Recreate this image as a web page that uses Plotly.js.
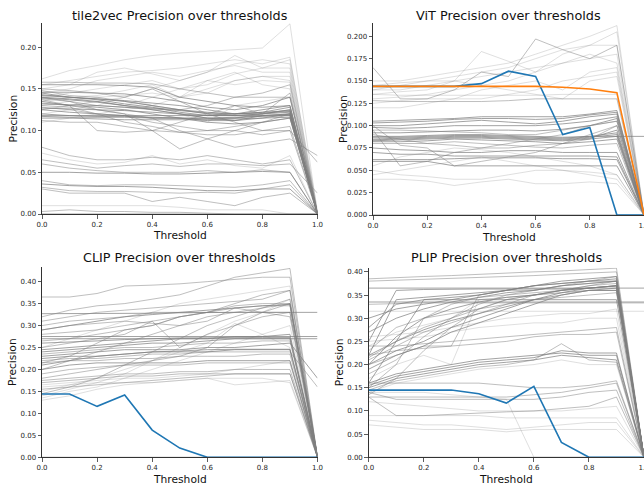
<!DOCTYPE html>
<html>
<head>
<meta charset="utf-8">
<script src="https://cdn.plot.ly/plotly-3.0.1.min.js"></script>
<style>html,body{margin:0;padding:0;background:#fff;}#chart{width:644px;height:491px;}</style>
</head>
<body>
<div id="chart"></div>
<script>
// ---------------- DATA ----------------
const thresholds = [0.0,0.1,0.2,0.3,0.4,0.5,0.6,0.7,0.8,0.9,1.0];

const panelTitles = ["tile2vec Precision over thresholds","ViT Precision over thresholds","CLIP Precision over thresholds","PLIP Precision over thresholds"];

const tile2vecLines = [
  [0.162,0.172,0.178,0.185,0.190,0.193,0.195,0.197,0.199,0.228,0.000],
  [0.155,0.160,0.165,0.170,0.172,0.175,0.180,0.185,0.180,0.188,0.000],
  [0.150,0.155,0.170,0.175,0.168,0.160,0.170,0.190,0.175,0.185,0.005],
  [0.145,0.150,0.160,0.165,0.170,0.165,0.172,0.178,0.170,0.170,0.000],
  [0.140,0.145,0.150,0.155,0.160,0.150,0.155,0.168,0.175,0.175,0.000],
  [0.135,0.140,0.142,0.148,0.155,0.140,0.145,0.160,0.165,0.165,0.000],
  [0.130,0.135,0.140,0.142,0.145,0.140,0.160,0.155,0.160,0.158,0.000],
  [0.125,0.130,0.135,0.130,0.140,0.150,0.160,0.170,0.155,0.150,0.000],
  [0.120,0.125,0.130,0.140,0.150,0.160,0.170,0.180,0.185,0.180,0.000],
  [0.110,0.115,0.120,0.125,0.130,0.140,0.150,0.160,0.165,0.160,0.000],
  [0.158,0.158,0.157,0.157,0.156,0.150,0.145,0.140,0.140,0.140,0.000],
  [0.155,0.155,0.155,0.154,0.152,0.140,0.135,0.130,0.128,0.130,0.000],
  [0.150,0.148,0.145,0.140,0.150,0.135,0.120,0.110,0.100,0.105,0.000],
  [0.145,0.140,0.138,0.135,0.130,0.125,0.120,0.118,0.120,0.125,0.000],
  [0.143,0.140,0.137,0.132,0.128,0.122,0.118,0.120,0.125,0.130,0.000],
  [0.140,0.138,0.135,0.130,0.125,0.120,0.115,0.112,0.118,0.120,0.003],
  [0.138,0.135,0.130,0.128,0.125,0.120,0.115,0.115,0.120,0.145,0.000],
  [0.135,0.130,0.128,0.125,0.120,0.115,0.110,0.108,0.110,0.115,0.000],
  [0.133,0.130,0.125,0.120,0.115,0.100,0.090,0.080,0.085,0.090,0.070],
  [0.130,0.128,0.120,0.110,0.105,0.098,0.095,0.095,0.100,0.100,0.062],
  [0.128,0.125,0.120,0.118,0.110,0.105,0.100,0.100,0.095,0.100,0.000],
  [0.125,0.122,0.120,0.118,0.115,0.115,0.112,0.112,0.115,0.120,0.000],
  [0.120,0.118,0.117,0.117,0.116,0.115,0.114,0.115,0.118,0.120,0.000],
  [0.117,0.116,0.116,0.116,0.115,0.115,0.115,0.116,0.117,0.118,0.000],
  [0.115,0.115,0.114,0.113,0.113,0.113,0.113,0.114,0.115,0.116,0.000],
  [0.112,0.110,0.110,0.105,0.100,0.098,0.100,0.105,0.110,0.115,0.000],
  [0.140,0.135,0.125,0.120,0.100,0.078,0.090,0.100,0.110,0.120,0.000],
  [0.148,0.142,0.140,0.135,0.130,0.125,0.130,0.140,0.145,0.155,0.000],
  [0.137,0.130,0.100,0.098,0.100,0.110,0.120,0.130,0.120,0.125,0.000],
  [0.125,0.130,0.135,0.140,0.130,0.120,0.110,0.130,0.135,0.140,0.000],
  [0.080,0.070,0.065,0.065,0.068,0.065,0.070,0.065,0.060,0.065,0.000],
  [0.073,0.065,0.060,0.062,0.070,0.060,0.065,0.058,0.055,0.070,0.000],
  [0.065,0.060,0.055,0.058,0.060,0.057,0.060,0.060,0.058,0.060,0.025],
  [0.060,0.055,0.052,0.050,0.050,0.050,0.052,0.050,0.053,0.050,0.000],
  [0.050,0.050,0.049,0.049,0.048,0.048,0.049,0.050,0.051,0.050,0.000],
  [0.040,0.035,0.034,0.035,0.035,0.034,0.033,0.032,0.035,0.040,0.000],
  [0.036,0.034,0.033,0.033,0.032,0.030,0.028,0.028,0.030,0.030,0.000],
  [0.032,0.028,0.027,0.027,0.026,0.025,0.026,0.025,0.030,0.035,0.000],
  [0.030,0.025,0.025,0.025,0.015,0.020,0.015,0.010,0.020,0.025,0.000],
  [0.010,0.010,0.010,0.010,0.010,0.008,0.005,0.005,0.005,0.000,0.000],
  [0.003,0.005,0.003,0.003,0.002,0.002,0.001,0.000,0.000,0.000,0.000],
  [0.000,0.000,0.000,0.000,0.000,0.000,0.000,0.000,0.000,0.000,0.000],
  [0.142,0.140,0.138,0.136,0.133,0.130,0.125,0.120,0.122,0.128,0.000],
  [0.139,0.137,0.134,0.130,0.127,0.125,0.122,0.120,0.121,0.123,0.000],
  [0.132,0.131,0.130,0.128,0.126,0.124,0.121,0.120,0.122,0.124,0.000],
  [0.127,0.126,0.125,0.124,0.122,0.120,0.118,0.118,0.120,0.122,0.000],
  [0.118,0.118,0.118,0.118,0.118,0.118,0.118,0.118,0.118,0.118,0.000],
  [0.146,0.146,0.145,0.144,0.140,0.135,0.128,0.125,0.130,0.140,0.000]
];
const tile2vecShade = "LLLLLLLLLLMDMDDDMDMMMDDDDMMMMLMLMMDMDMMLMDDDDDDD";

const vitLines = [
  [0.150,0.150,0.155,0.160,0.165,0.170,0.180,0.190,0.200,0.212,0.000],
  [0.145,0.148,0.150,0.155,0.160,0.165,0.175,0.185,0.190,0.205,0.000],
  [0.140,0.140,0.145,0.150,0.183,0.172,0.160,0.180,0.190,0.190,0.000],
  [0.165,0.130,0.130,0.140,0.160,0.155,0.197,0.185,0.175,0.190,0.000],
  [0.135,0.138,0.140,0.150,0.155,0.160,0.165,0.170,0.175,0.180,0.000],
  [0.130,0.132,0.135,0.140,0.145,0.150,0.160,0.170,0.180,0.170,0.000],
  [0.125,0.128,0.130,0.130,0.140,0.145,0.150,0.140,0.160,0.165,0.000],
  [0.120,0.120,0.125,0.130,0.130,0.135,0.140,0.150,0.155,0.160,0.000],
  [0.140,0.145,0.150,0.150,0.145,0.140,0.135,0.130,0.150,0.155,0.000],
  [0.128,0.127,0.127,0.127,0.127,0.128,0.130,0.130,0.130,0.130,0.000],
  [0.135,0.134,0.134,0.134,0.134,0.134,0.134,0.135,0.135,0.135,0.000],
  [0.103,0.104,0.105,0.107,0.108,0.108,0.107,0.108,0.112,0.115,0.000],
  [0.100,0.100,0.102,0.104,0.106,0.104,0.102,0.105,0.110,0.113,0.000],
  [0.098,0.097,0.098,0.100,0.100,0.100,0.100,0.102,0.105,0.110,0.000],
  [0.095,0.095,0.094,0.093,0.092,0.090,0.090,0.095,0.100,0.105,0.000],
  [0.088,0.088,0.089,0.090,0.090,0.089,0.088,0.087,0.088,0.088,0.088],
  [0.085,0.086,0.087,0.088,0.088,0.087,0.086,0.085,0.087,0.090,0.000],
  [0.083,0.084,0.085,0.086,0.086,0.085,0.084,0.083,0.085,0.088,0.000],
  [0.082,0.082,0.083,0.085,0.084,0.083,0.082,0.080,0.082,0.085,0.000],
  [0.080,0.080,0.080,0.082,0.080,0.078,0.076,0.075,0.078,0.080,0.000],
  [0.090,0.085,0.080,0.078,0.075,0.075,0.078,0.080,0.085,0.100,0.000],
  [0.075,0.073,0.072,0.070,0.070,0.072,0.072,0.070,0.070,0.070,0.000],
  [0.070,0.068,0.068,0.066,0.066,0.066,0.066,0.066,0.066,0.065,0.000],
  [0.062,0.062,0.062,0.063,0.064,0.064,0.064,0.063,0.063,0.062,0.000],
  [0.060,0.060,0.060,0.055,0.055,0.055,0.055,0.055,0.055,0.055,0.000],
  [0.100,0.078,0.075,0.055,0.060,0.065,0.070,0.080,0.090,0.100,0.000],
  [0.095,0.055,0.060,0.070,0.075,0.080,0.085,0.090,0.100,0.105,0.000],
  [0.050,0.045,0.043,0.040,0.040,0.045,0.050,0.050,0.048,0.045,0.000],
  [0.040,0.040,0.038,0.033,0.037,0.040,0.035,0.035,0.037,0.035,0.000],
  [0.045,0.050,0.055,0.060,0.065,0.060,0.055,0.050,0.045,0.040,0.000],
  [0.055,0.065,0.070,0.075,0.073,0.070,0.065,0.060,0.055,0.045,0.000],
  [0.000,0.000,0.000,0.000,0.000,0.000,0.000,0.000,0.000,0.000,0.000],
  [0.087,0.087,0.088,0.089,0.089,0.088,0.087,0.086,0.088,0.092,0.000],
  [0.084,0.085,0.086,0.087,0.087,0.086,0.085,0.084,0.086,0.095,0.000],
  [0.105,0.106,0.107,0.108,0.110,0.110,0.110,0.110,0.113,0.117,0.000],
  [0.092,0.092,0.093,0.094,0.095,0.095,0.094,0.096,0.100,0.108,0.000]
];
const vitShade = "LLLMLLLLLMLDDDMDDDDMMDDDDMMLLLLDDDDD";
const vitBlue   = [0.144,0.144,0.144,0.144,0.147,0.161,0.155,0.090,0.098,0.000,0.000];
const vitOrange = [0.144,0.144,0.144,0.144,0.144,0.144,0.144,0.143,0.141,0.137,0.000];

const clipLines = [
  [0.365,0.365,0.373,0.390,0.392,0.395,0.400,0.405,0.410,0.410,0.000],
  [0.320,0.335,0.345,0.350,0.360,0.370,0.390,0.410,0.420,0.430,0.000],
  [0.327,0.327,0.327,0.328,0.328,0.329,0.330,0.330,0.330,0.330,0.330],
  [0.310,0.320,0.330,0.335,0.340,0.345,0.350,0.355,0.360,0.380,0.000],
  [0.300,0.310,0.315,0.320,0.330,0.330,0.330,0.330,0.330,0.330,0.000],
  [0.290,0.300,0.305,0.310,0.305,0.300,0.310,0.340,0.330,0.320,0.000],
  [0.275,0.275,0.275,0.275,0.275,0.275,0.275,0.275,0.275,0.275,0.275],
  [0.270,0.270,0.270,0.270,0.270,0.270,0.270,0.270,0.270,0.270,0.270],
  [0.280,0.285,0.290,0.300,0.310,0.320,0.330,0.345,0.350,0.350,0.000],
  [0.265,0.270,0.280,0.290,0.300,0.320,0.330,0.340,0.345,0.345,0.000],
  [0.250,0.260,0.270,0.280,0.310,0.250,0.280,0.300,0.320,0.330,0.000],
  [0.245,0.250,0.255,0.260,0.265,0.270,0.270,0.275,0.275,0.280,0.000],
  [0.240,0.245,0.250,0.255,0.260,0.260,0.265,0.270,0.270,0.270,0.000],
  [0.235,0.240,0.245,0.250,0.250,0.255,0.260,0.260,0.265,0.265,0.000],
  [0.230,0.235,0.240,0.245,0.245,0.245,0.250,0.250,0.255,0.260,0.180],
  [0.225,0.230,0.230,0.235,0.240,0.240,0.240,0.245,0.245,0.245,0.000],
  [0.220,0.225,0.225,0.230,0.235,0.235,0.240,0.240,0.240,0.240,0.160],
  [0.215,0.220,0.220,0.225,0.225,0.230,0.230,0.230,0.235,0.235,0.000],
  [0.200,0.210,0.215,0.215,0.215,0.215,0.220,0.220,0.220,0.220,0.000],
  [0.190,0.200,0.205,0.210,0.210,0.210,0.215,0.215,0.215,0.215,0.000],
  [0.180,0.190,0.200,0.210,0.220,0.230,0.250,0.300,0.330,0.350,0.000],
  [0.175,0.180,0.185,0.190,0.190,0.195,0.195,0.200,0.200,0.200,0.000],
  [0.170,0.175,0.180,0.185,0.185,0.190,0.190,0.190,0.190,0.190,0.000],
  [0.165,0.170,0.175,0.180,0.180,0.185,0.190,0.200,0.210,0.220,0.000],
  [0.160,0.165,0.170,0.170,0.170,0.175,0.180,0.165,0.170,0.175,0.000],
  [0.155,0.160,0.165,0.170,0.175,0.180,0.185,0.190,0.190,0.190,0.000],
  [0.150,0.165,0.180,0.200,0.220,0.240,0.260,0.305,0.280,0.250,0.000],
  [0.145,0.160,0.180,0.210,0.240,0.270,0.300,0.320,0.340,0.360,0.000],
  [0.140,0.155,0.170,0.190,0.220,0.250,0.280,0.310,0.330,0.360,0.000],
  [0.135,0.150,0.160,0.180,0.200,0.220,0.240,0.260,0.280,0.300,0.000],
  [0.130,0.140,0.155,0.165,0.170,0.175,0.180,0.180,0.180,0.170,0.000],
  [0.200,0.220,0.240,0.260,0.280,0.300,0.320,0.330,0.340,0.350,0.000],
  [0.215,0.230,0.260,0.290,0.300,0.320,0.330,0.350,0.370,0.380,0.000],
  [0.250,0.270,0.290,0.310,0.330,0.350,0.360,0.370,0.380,0.390,0.000],
  [0.000,0.000,0.000,0.000,0.000,0.000,0.000,0.000,0.000,0.000,0.000],
  [0.260,0.262,0.265,0.268,0.270,0.272,0.272,0.273,0.273,0.273,0.000],
  [0.290,0.300,0.310,0.320,0.325,0.330,0.335,0.340,0.345,0.348,0.000],
  [0.210,0.220,0.230,0.235,0.240,0.242,0.245,0.246,0.246,0.246,0.000]
];
const clipShade = "MMDMMMDDMMMDDMDDMMDMMMMLLMLMLLLMMLDDDD";
const clipBlue = [0.144,0.144,0.116,0.142,0.062,0.021,0.000,0.000,0.000,0.000,0.000];

const plipLines = [
  [0.385,0.388,0.390,0.392,0.395,0.397,0.400,0.402,0.405,0.408,0.000],
  [0.380,0.382,0.383,0.385,0.388,0.390,0.392,0.395,0.398,0.400,0.000],
  [0.365,0.365,0.365,0.365,0.365,0.365,0.365,0.365,0.365,0.365,0.365],
  [0.335,0.335,0.335,0.335,0.335,0.335,0.335,0.335,0.335,0.335,0.335],
  [0.330,0.332,0.333,0.333,0.333,0.333,0.333,0.333,0.333,0.333,0.333],
  [0.315,0.315,0.315,0.315,0.315,0.315,0.315,0.315,0.315,0.315,0.315],
  [0.300,0.320,0.330,0.340,0.350,0.360,0.370,0.380,0.385,0.390,0.000],
  [0.280,0.330,0.340,0.345,0.350,0.360,0.370,0.375,0.380,0.385,0.000],
  [0.250,0.360,0.362,0.363,0.363,0.363,0.363,0.363,0.365,0.370,0.000],
  [0.220,0.340,0.345,0.350,0.355,0.360,0.370,0.375,0.380,0.380,0.000],
  [0.215,0.250,0.280,0.300,0.330,0.350,0.360,0.370,0.375,0.380,0.000],
  [0.210,0.240,0.270,0.290,0.310,0.330,0.350,0.360,0.370,0.375,0.000],
  [0.200,0.230,0.250,0.280,0.300,0.320,0.340,0.355,0.365,0.370,0.000],
  [0.190,0.220,0.240,0.270,0.290,0.310,0.330,0.350,0.360,0.365,0.000],
  [0.180,0.210,0.260,0.300,0.320,0.340,0.350,0.355,0.360,0.360,0.000],
  [0.230,0.280,0.300,0.310,0.320,0.330,0.340,0.345,0.350,0.355,0.000],
  [0.240,0.270,0.285,0.300,0.340,0.345,0.350,0.360,0.365,0.370,0.000],
  [0.200,0.220,0.240,0.240,0.350,0.360,0.360,0.370,0.380,0.390,0.000],
  [0.170,0.200,0.220,0.200,0.340,0.345,0.350,0.355,0.360,0.360,0.000],
  [0.150,0.200,0.300,0.330,0.345,0.350,0.355,0.360,0.365,0.370,0.000],
  [0.160,0.250,0.340,0.340,0.340,0.340,0.340,0.340,0.340,0.340,0.000],
  [0.135,0.170,0.230,0.280,0.320,0.340,0.350,0.360,0.370,0.380,0.000],
  [0.260,0.265,0.270,0.280,0.290,0.300,0.305,0.310,0.310,0.320,0.000],
  [0.250,0.255,0.260,0.270,0.280,0.285,0.290,0.290,0.300,0.300,0.000],
  [0.240,0.240,0.245,0.250,0.255,0.260,0.265,0.270,0.275,0.280,0.000],
  [0.220,0.230,0.235,0.240,0.245,0.250,0.260,0.265,0.265,0.270,0.000],
  [0.160,0.180,0.190,0.200,0.210,0.215,0.220,0.225,0.220,0.220,0.000],
  [0.155,0.175,0.185,0.195,0.205,0.210,0.215,0.230,0.225,0.225,0.000],
  [0.150,0.170,0.180,0.190,0.200,0.205,0.210,0.220,0.215,0.210,0.000],
  [0.145,0.165,0.175,0.185,0.195,0.200,0.210,0.245,0.210,0.205,0.000],
  [0.140,0.160,0.170,0.180,0.190,0.195,0.200,0.210,0.200,0.200,0.000],
  [0.160,0.160,0.160,0.160,0.160,0.155,0.150,0.150,0.155,0.165,0.000],
  [0.130,0.130,0.130,0.130,0.130,0.130,0.135,0.140,0.150,0.160,0.000],
  [0.140,0.125,0.125,0.125,0.125,0.125,0.125,0.130,0.140,0.145,0.000],
  [0.130,0.090,0.090,0.093,0.095,0.098,0.100,0.105,0.110,0.130,0.000],
  [0.120,0.115,0.110,0.105,0.100,0.100,0.100,0.100,0.105,0.110,0.000],
  [0.090,0.090,0.090,0.090,0.090,0.085,0.085,0.085,0.085,0.085,0.000],
  [0.080,0.075,0.070,0.070,0.065,0.060,0.065,0.070,0.075,0.075,0.000],
  [0.070,0.065,0.060,0.060,0.060,0.055,0.060,0.060,0.060,0.060,0.000],
  [0.140,0.140,0.140,0.135,0.130,0.125,0.000,0.000,0.000,0.000,0.000],
  [0.000,0.000,0.000,0.000,0.000,0.000,0.000,0.000,0.000,0.000,0.000],
  [0.270,0.300,0.320,0.335,0.345,0.355,0.360,0.370,0.375,0.380,0.000],
  [0.200,0.260,0.300,0.320,0.335,0.345,0.350,0.360,0.365,0.370,0.000],
  [0.220,0.250,0.275,0.295,0.310,0.325,0.340,0.350,0.360,0.360,0.000]
];
const plipShade = "MMDDMLDDDDMMDDMMLMLMDMLLMMDDDMLMMMMLLLLLDDDD";
const plipBlue = [0.145,0.145,0.145,0.145,0.137,0.117,0.153,0.032,0.000,0.000,0.000];

// ---------------- STYLE / LAYOUT ----------------
const W = 644, H = 491;
const shadeAlpha = {L: 0.25, M: 0.5, D: 0.72};
const BLUE = "#1f77b4", ORANGE = "#ff7f0e";
const FONT = "DejaVu Sans, sans-serif";

const boxes = [
  {l:42,  r:317.5, t:23,    b:214,   ymax:0.229,  dtick:0.05,  fmt:".2f"},
  {l:373, r:644,   t:23,    b:215,   ymax:0.2149, dtick:0.025, fmt:".3f"},
  {l:42,  r:317.5, t:266.7, b:457.3, ymax:0.434,  dtick:0.05,  fmt:".2f"},
  {l:368.7,r:644,  t:267.7, b:457.3, ymax:0.409,  dtick:0.05,  fmt:".2f"}
];

const panels = [
  {lines: tile2vecLines, shade: tile2vecShade, extra: []},
  {lines: vitLines, shade: vitShade, extra: [[vitBlue, BLUE], [vitOrange, ORANGE]]},
  {lines: clipLines, shade: clipShade, extra: [[clipBlue, BLUE]]},
  {lines: plipLines, shade: plipShade, extra: [[plipBlue, BLUE]]}
];

const traces = [];
panels.forEach((p, i) => {
  const xa = i === 0 ? "x" : "x" + (i + 1);
  const ya = i === 0 ? "y" : "y" + (i + 1);
  p.lines.forEach((ys, k) => {
    const a = shadeAlpha[p.shade[k]] || 0.5;
    traces.push({
      x: thresholds, y: ys, xaxis: xa, yaxis: ya, type: "scatter", mode: "lines",
      line: {color: "rgba(128,128,128," + a + ")", width: 1}, hoverinfo: "skip", showlegend: false
    });
  });
  p.extra.forEach(([ys, c]) => {
    traces.push({
      x: thresholds, y: ys, xaxis: xa, yaxis: ya, type: "scatter", mode: "lines",
      line: {color: c, width: 1.6}, hoverinfo: "skip", showlegend: false
    });
  });
});

const layout = {
  width: W, height: H,
  margin: {l: 0, r: 0, t: 0, b: 0},
  paper_bgcolor: "#fff", plot_bgcolor: "#fff",
  showlegend: false,
  font: {family: FONT, color: "#262626"},
  annotations: []
};

boxes.forEach((b, i) => {
  const sx = i === 0 ? "" : String(i + 1);
  layout["xaxis" + sx] = {
    domain: [b.l / W, b.r / W], anchor: "y" + sx, range: [0, 1],
    tickvals: [0, 0.2, 0.4, 0.6, 0.8, 1.0], tickformat: ".1f", ticklabeloverflow: "allow",
    showgrid: false, zeroline: false, showline: true, linecolor: "#333", linewidth: 1,
    ticks: "outside", ticklen: 3.5, tickwidth: 0.8, tickcolor: "#333",
    tickfont: {size: 7, family: FONT, color: "#262626"}, fixedrange: true
  };
  layout["yaxis" + sx] = {
    domain: [(H - b.b) / H, (H - b.t) / H], anchor: "x" + sx, range: [0, b.ymax],
    dtick: b.dtick, tick0: 0, tickformat: b.fmt,
    showgrid: false, zeroline: false, showline: true, linecolor: "#333", linewidth: 1,
    ticks: "outside", ticklen: 3.5, tickwidth: 0.8, tickcolor: "#333",
    tickfont: {size: 7, family: FONT, color: "#262626"}, fixedrange: true
  };
  const cx = (b.l + b.r) / 2;
  const titleY = i < 2 ? 15 : 257;
  layout.annotations.push({
    text: panelTitles[i], xref: "paper", yref: "paper",
    x: cx / W, y: (H - titleY) / H, xanchor: "center", yanchor: "middle",
    showarrow: false, font: {size: 12.8, family: FONT, color: "#111", weight: "normal"}
  });
  layout.annotations.push({
    text: "Threshold", xref: "paper", yref: "paper",
    x: cx / W, y: (H - (b.b + 22)) / H, xanchor: "center", yanchor: "middle",
    showarrow: false, font: {size: 10.7, family: FONT, color: "#111", weight: "normal"}
  });
  layout.annotations.push({
    text: "Precision", xref: "paper", yref: "paper", textangle: -90,
    x: (b.l - 29) / W, y: (H - (b.t + b.b) / 2) / H, xanchor: "center", yanchor: "middle",
    showarrow: false, font: {size: 10.7, family: FONT, color: "#111", weight: "normal"}
  });
});

Plotly.newPlot("chart", traces, layout, {staticPlot: true, displayModeBar: false});
</script>
</body>
</html>
